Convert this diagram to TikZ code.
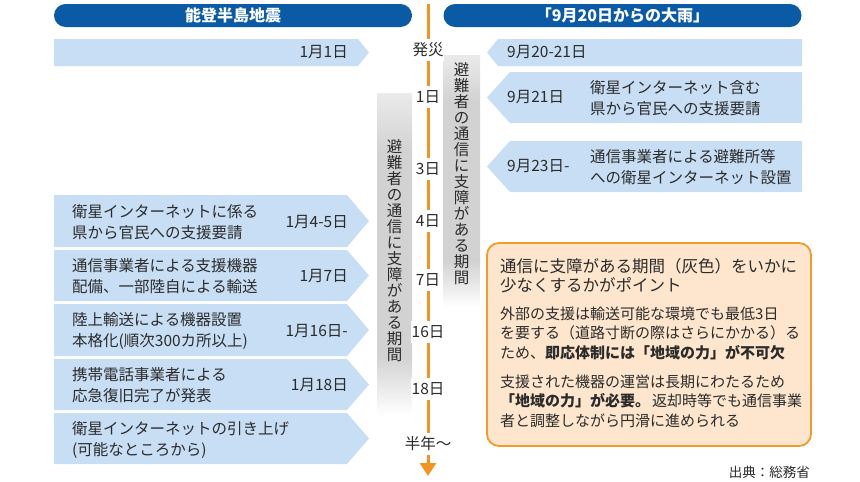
\documentclass[tikz,border=0pt]{standalone}
\usepackage{fontspec}
\setmainfont{Noto Sans CJK JP}
\usetikzlibrary{arrows.meta}
\definecolor{hdrblue}{HTML}{0B5AA6}
\definecolor{arrblue}{HTML}{C8DEF4}
\definecolor{tlorange}{HTML}{F39421}
\definecolor{boxfill}{HTML}{FDE6CD}
\definecolor{boxline}{HTML}{F39A2B}
\definecolor{txt}{HTML}{2B2B2B}
\pgfdeclareverticalshading{graybar}{100bp}{color(0bp)=(white); color(25bp)=(white); color(34bp)=(gray!35); color(66bp)=(gray!35); color(75bp)=(gray!16); color(100bp)=(gray!16)}
\newcommand\mkLarrow[3]{\fill[arrblue] (54,#1) -- (#3,#1) -- (369,{(#1+#2)/2}) -- (#3,#2) -- (54,#2) -- cycle;}
\newcommand\mkRarrow[3]{\fill[arrblue] (802,#1) -- (#3,#1) -- (487,{(#1+#2)/2}) -- (#3,#2) -- (802,#2) -- cycle;}
\tikzset{
  hdr/.style={fill=hdrblue, rounded corners=11.5pt, minimum width=358pt, minimum height=23pt, inner sep=0pt, text=white, font=\fontsize{16}{18}\selectfont\bfseries},
  body/.style={text=txt, font=\fontsize{15.5}{21}\selectfont, align=left, inner sep=0pt, anchor=west},
  datel/.style={text=txt, font=\fontsize{15.5}{19}\selectfont, inner sep=0pt, anchor=east},
  dater/.style={text=txt, font=\fontsize{15.5}{19}\selectfont, inner sep=0pt, anchor=west},
  tick/.style={text=txt, font=\fontsize{15.5}{19}\selectfont, fill=white, inner xsep=0.5pt, inner ysep=4pt},
  vtext/.style={text=txt, font=\fontsize{15.5}{16}\selectfont, align=center, inner sep=0pt},
  ptitle/.style={text=txt, font=\fontsize{16.5}{19}\selectfont, align=left, inner sep=0pt, anchor=west},
  ptext/.style={text=txt, font=\fontsize{15}{19.5}\selectfont, align=left, inner sep=0pt, anchor=west},
}
\begin{document}
\begin{tikzpicture}[x=1pt,y=-1pt]
\useasboundingbox (0,0) rectangle (860,482);
% headers
\node[hdr] (hdrL) at (233,15.5) {能登半島地震};
\node[hdr] (hdrR) at (622.5,15.5) {「9月20日からの大雨」};
% gray bars
\shade[shading=graybar] (377,93) rectangle (412,415);
\shade[shading=graybar] (443,55) rectangle (480,307);
\node[vtext] (vL) at (394.5,251) {避\\難\\者\\の\\通\\信\\に\\支\\障\\が\\あ\\る\\期\\間};
\node[vtext] (vR) at (461.5,173.5) {避\\難\\者\\の\\通\\信\\に\\支\\障\\が\\あ\\る\\期\\間};
% left arrows
\mkLarrow{39}{66}{358}
\mkLarrow{195}{247}{347}
\mkLarrow{250}{301}{347}
\mkLarrow{304}{356}{347}
\mkLarrow{359}{410}{347}
\mkLarrow{413}{464}{347}
\node[datel] (d1) at (348,52.5) {1月1日};
\node[body] (e2) at (72,222) {衛星インターネットに係る\\県から官民への支援要請};
\node[datel] (d2) at (348,222) {1月4-5日};
\node[body] (e3) at (72,276.5) {通信事業者による支援機器\\配備、一部陸自による輸送};
\node[datel] (d3) at (348,276.5) {1月7日};
\node[body] (e4) at (72,331) {陸上輸送による機器設置\\本格化(順次300カ所以上)};
\node[datel] (d4) at (348,331) {1月16日-};
\node[body] (e5) at (72,385.5) {携帯電話事業者による\\応急復旧完了が発表};
\node[datel] (d5) at (348,385.5) {1月18日};
\node[body] (e6) at (72,439.5) {衛星インターネットの引き上げ\\(可能なところから)};
% right arrows
\mkRarrow{39}{66}{498}
\mkRarrow{72}{123}{510}
\mkRarrow{141}{192}{510}
\node[dater] (r1) at (507,52.5) {9月20-21日};
\node[dater] (r2) at (507,97.5) {9月21日};
\node[body] (s2) at (590,98) {衛星インターネット含む\\県から官民への支援要請};
\node[dater] (r3) at (507,166.5) {9月23日-};
\node[body] (s3) at (590,167) {通信事業者による避難所等\\への衛星インターネット設置};
% timeline
\coordinate (tltop) at (428,4);
\coordinate (tlend) at (428,476);
\draw[tlorange, line width=3pt, -{Triangle[width=16pt,length=13pt]}] (tltop) -- (tlend);
\node[tick] (t0) at (428,50) {発災};
\node[tick] (t1) at (428,97) {1日};
\node[tick] (t3) at (428,169) {3日};
\node[tick] (t4) at (428,221) {4日};
\node[tick] (t7) at (428,280) {7日};
\node[tick] (t16) at (428,332) {16日};
\node[tick] (t18) at (428,389) {18日};
\node[tick] (t6m) at (428,444) {半年～};
% orange box
\node[draw=boxline, fill=boxfill, line width=1.8pt, rounded corners=12pt, minimum width=324pt, minimum height=203pt, inner sep=0pt] (obox) at (649,344.5) {};
\node[ptitle] (pt) at (500,275.5) {通信に支障がある期間（灰色）をいかに\\少なくするかがポイント};
\node[ptext] (p1) at (500,333) {外部の支援は輸送可能な環境でも最低3日\\を要する（道路寸断の際はさらにかかる）る\\ため、\textbf{即応体制には「地域の力」が不可欠}};
\node[ptext] (p2) at (500,401) {支援された機器の運営は長期にわたるため\\\textbf{「地域の力」が必要。}\hspace{2pt}返却時等でも通信事業\\者と調整しながら円滑に進められる};
\node[text=txt, font=\fontsize{13.5}{16}\selectfont, anchor=east, inner sep=0pt] (src) at (810,472) {出典：総務省};
\end{tikzpicture}
\end{document}
